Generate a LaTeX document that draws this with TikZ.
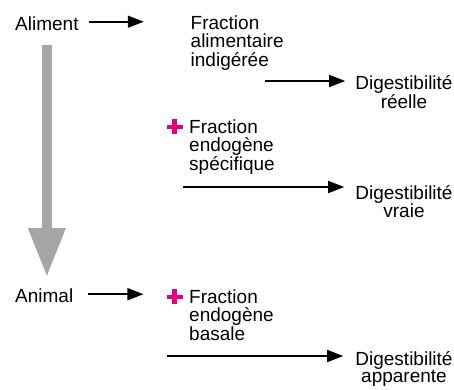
\documentclass[tikz,border=0pt]{standalone}
\usepackage{fontspec}
\setmainfont{Liberation Sans}
\usetikzlibrary{arrows.meta}
\definecolor{flowgray}{HTML}{A6A6A6}
\definecolor{plusmag}{HTML}{E4007C}
\tikzset{
  lbl/.style={inner sep=0pt, font=\fontsize{19}{18.5}\selectfont, align=left},
  res/.style={inner sep=0pt, font=\fontsize{19}{17.5}\selectfont, align=center, anchor=north},
  flow/.style={line width=1.6pt, -{Triangle[length=16pt,width=12pt]}},
  bigflow/.style={flowgray, line width=10pt, -{Triangle[length=49pt,width=35pt]}},
  plusmark/.style={plusmag, line width=4.4pt},
}
\begin{document}
\begin{tikzpicture}[x=1pt, y=-1pt]
  \useasboundingbox (0,0) rectangle (454,389);

  % colonne de gauche
  \node[lbl, anchor=base west] (aliment) at (15,30) {Aliment};
  \node[lbl, anchor=base west] (animal) at (15,302) {Animal};
  \draw[bigflow] ([yshift=-15pt]aliment.south) -- ([yshift=11pt]aliment.south |- animal.north);

  % fractions
  \node[lbl, anchor=north west] (fracA) at (190.5,15.4) {Fraction\\alimentaire\\indigérée};
  \node[lbl, anchor=north west] (fracS) at (189,119.4) {Fraction\\endogène\\spécifique};
  \node[lbl, anchor=north west] (fracB) at (189,289.4) {Fraction\\endogène\\basale};

  % digestibilités
  \node[res] (digR) at (404,75) {Digestibilité\\réelle};
  \node[res] (digV) at (404,185) {Digestibilité\\vraie};
  \node[res] (digA) at (404,351) {Digestibilité\\apparente};

  % signes plus
  \foreach \frac in {fracS, fracB} {
    \coordinate (plus\frac) at ([xshift=-14.5pt,yshift=-7.5pt]\frac.north west);
    \draw[plusmark] ([xshift=-8pt]plus\frac) -- ([xshift=8pt]plus\frac)
      ([yshift=-7.5pt]plus\frac) -- ([yshift=7.5pt]plus\frac);
  }

  % flèches
  \draw[flow] ([xshift=10pt,yshift=1.5pt]aliment.east) -- ++(55,0);
  \draw[flow] ([xshift=15pt,yshift=1pt]animal.east) -- ++(55,0);
  \coordinate (r0) at (265,81);
  \coordinate (v0) at (183,187);
  \coordinate (a0) at (167,356);
  \draw[flow, shorten >=10pt] (r0) -- (r0 -| digR.west);
  \draw[flow, shorten >=11pt] (v0) -- (v0 -| digV.west);
  \draw[flow, shorten >=12pt] (a0) -- (a0 -| digA.west);
\end{tikzpicture}
\end{document}
